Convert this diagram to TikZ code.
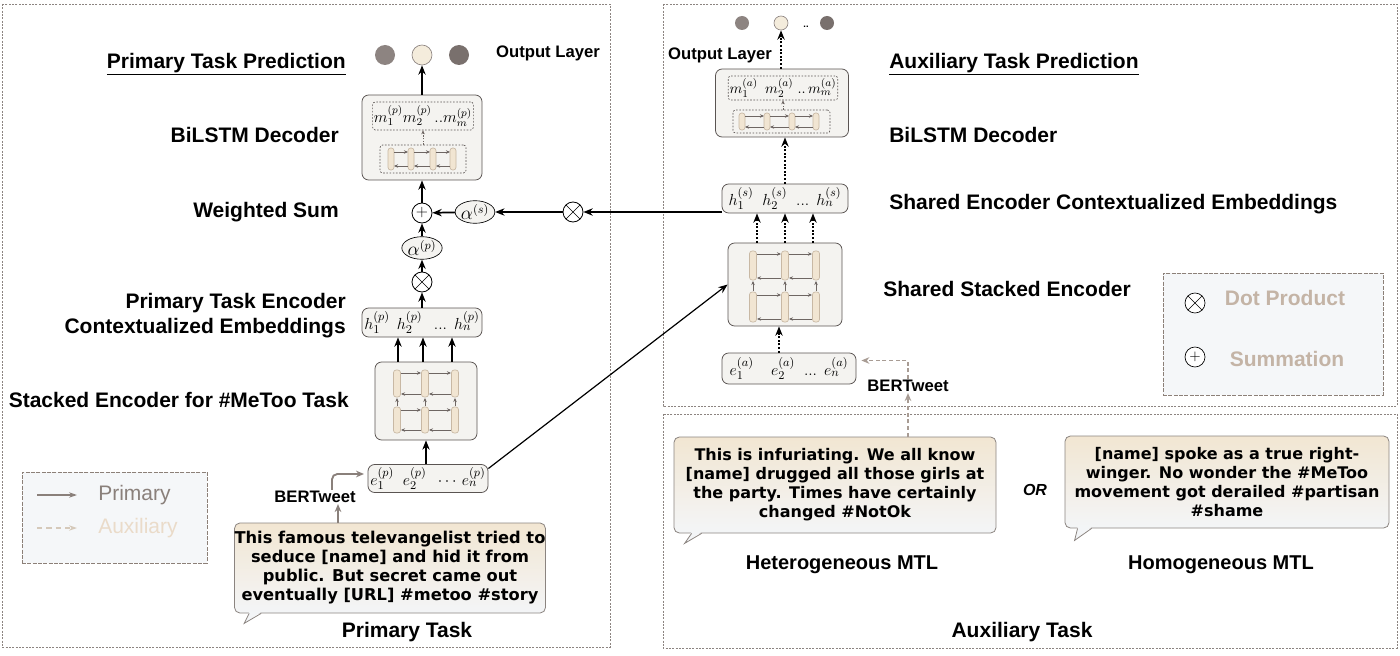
\documentclass[tikz,border=0pt]{standalone}
\usepackage[no-math]{fontspec}
\setmainfont{Liberation Sans}
\newfontfamily\tweetfont{DejaVu Sans}
\usetikzlibrary{arrows.meta,calc,positioning,shapes.geometric}

\definecolor{boxfill}{RGB}{244,243,240}
\definecolor{boxdraw}{RGB}{90,84,82}
\definecolor{cellfill}{RGB}{241,229,210}
\definecolor{celldraw}{RGB}{200,184,164}
\definecolor{inline}{RGB}{110,102,99}
\definecolor{framecol}{RGB}{140,132,128}
\definecolor{legfill}{RGB}{245,247,249}
\definecolor{legdraw}{RGB}{140,128,120}
\definecolor{tantext}{RGB}{196,180,166}
\definecolor{pritext}{RGB}{138,128,123}
\definecolor{auxtext}{RGB}{234,219,201}
\definecolor{bubtop}{RGB}{242,230,210}
\definecolor{bubbot}{RGB}{243,245,247}
\definecolor{bubdraw}{RGB}{139,132,128}
\definecolor{outdark}{RGB}{141,132,129}
\definecolor{outgray}{RGB}{121,112,109}
\definecolor{outlight}{RGB}{244,236,220}
\definecolor{garrow}{RGB}{138,128,123}
\definecolor{gdash}{RGB}{168,156,148}

\begin{document}
\begin{tikzpicture}[x=0.75pt,y=0.75pt,yscale=-1,
  lbl/.style={font=\bfseries\fontsize{15.75}{18.75}\selectfont, inner sep=0.75pt},
  rlbl/.style={font=\bfseries\fontsize{15.75}{18.75}\selectfont, inner sep=0.75pt},
  olbl/.style={font=\bfseries\fontsize{12.5}{15}\selectfont, inner sep=0.75pt},
  bert/.style={font=\bfseries\fontsize{12.5}{15}\selectfont, inner sep=0.75pt},
  mth/.style={font=\fontsize{13}{15}\selectfont},
  rbox/.style={draw=boxdraw, fill=boxfill, rounded corners=5pt, line width=0.6pt, inner sep=0pt, mth},
  dbox/.style={draw=boxdraw, dash pattern=on 1.2pt off 1.2pt, line width=0.5pt, rounded corners=2pt, inner sep=0pt, mth},
  lstmcell/.style={draw=celldraw, fill=cellfill, rounded corners=2pt, line width=0.5pt},
  mulnode/.style={circle, draw, fill=white, minimum size=15pt, inner sep=0pt, line width=0.6pt,
    path picture={\draw[line width=0.5pt] (path picture bounding box.north west) -- (path picture bounding box.south east)
      (path picture bounding box.north east) -- (path picture bounding box.south west);}},
  sumnode/.style={circle, draw, fill=white, minimum size=15pt, inner sep=0pt, line width=0.6pt, font=\fontsize{13}{13}\selectfont},
  alphanode/.style={ellipse, draw, fill=boxfill, line width=0.5pt, inner sep=0pt, minimum height=15pt, font=\fontsize{13.5}{15}\selectfont},
  outnode/.style={circle, minimum size=15pt, inner sep=0pt},
  arr/.style={-{Stealth[length=7pt,width=5.5pt]}, line width=1.3pt},
  darr/.style={arr, dash pattern=on 1.5pt off 1.2pt},
  inarr/.style={-{Stealth[length=3pt,width=2.6pt]}, draw=inline, line width=0.5pt},
  taskframe/.style={draw=framecol, dash pattern=on 1.5pt off 1pt, line width=0.6pt},
  legbox/.style={draw=legdraw, dash pattern=on 3pt off 1pt, fill=legfill, line width=0.6pt, inner sep=0pt},
  tweetbox/.style={draw=bubdraw, top color=bubtop, bottom color=bubbot, rounded corners=4pt, line width=0.6pt,
    align=center, inner sep=0pt, font=\tweetfont\bfseries\fontsize{12}{14.25}\selectfont},
  garr/.style={-{Stealth[length=6pt,width=5pt]}, draw=garrow, line width=1.4pt},
  gdarr/.style={-{Stealth[length=6pt,width=5pt]}, draw=gdash, line width=0.9pt, dash pattern=on 3pt off 2pt}
]
\path[use as bounding box] (0,0) rectangle (1400,656);

%Shape: Rectangle [task frames]
\draw[taskframe] (2,4) rectangle (610,647);
\draw[taskframe] (663,4) rectangle (1397,406);
\draw[taskframe] (663,414) rectangle (1397,648);

%Shape: Rectangle [legends]
\node[legbox, minimum width=138.75pt, minimum height=68.25pt] (legL) at (114.5,517.5) {};
\node[legbox, minimum width=165pt, minimum height=91.5pt] (legR) at (1273,334) {};

%Shape: Circle [output layer, primary]
\node[outnode, fill=outdark] (oP1) at (385,55) {};
\node[outnode, fill=outlight, draw=outdark, line width=0.5pt] (oP2) at (422,55) {};
\node[outnode, fill=outgray] (oP3) at (459,55) {};
%Shape: Circle [output layer, auxiliary]
\node[outnode, minimum size=10.5pt, fill=outdark] (oA1) at (742,23) {};
\node[outnode, minimum size=10.5pt, fill=outlight, draw=outdark, line width=0.5pt] (oA2) at (781,23) {};
\node[outnode, minimum size=10.5pt, fill=outgray] (oA3) at (827,23) {};
\node[font=\bfseries\fontsize{7}{7}\selectfont, inner sep=0pt] (dotsA) at (806,27) {..};

%Rounded Rect [primary decoder]
\node[rbox, minimum width=90pt, minimum height=63.75pt] (decP) at (422,137.5) {};
\node[dbox, minimum width=72pt, minimum height=21pt, inner xsep=1pt, font=\fontsize{11.5}{14}\selectfont] (mP) at (423,116) {$m_1^{(p)}m_2^{(p)}\,..m_m^{(p)}$};
\node[dbox, minimum width=64.5pt, minimum height=21pt] (lP) at (423,159) {};
\foreach \cx in {391,411,433,453} {\draw[lstmcell] (\cx-3,148) rectangle (\cx+3,170);}
\foreach \a/\b in {391/411,411/433,433/453} {
  \draw[inarr] (\a+3,152) -- (\b-3,152);
  \draw[inarr] (\b-3,166) -- (\a+3,166);
}
\draw[inarr, dash pattern=on 1pt off 1pt] (lP.north) -- (mP.south);

%Rounded Rect [auxiliary decoder]
\node[rbox, minimum width=99.75pt, minimum height=51pt] (decA) at (782,103) {};
\node[dbox, minimum width=78pt, minimum height=18pt, inner xsep=1pt, font=\fontsize{11}{13}\selectfont] (mA) at (783,88) {$m_1^{(a)}\enspace m_2^{(a)}\;..\,m_m^{(a)}$};
\node[dbox, minimum width=72.75pt, minimum height=17.25pt] (lA) at (781.5,121.5) {};
\foreach \cx in {742,767,792,816} {\draw[lstmcell] (\cx-3,113) rectangle (\cx+3,130);}
\foreach \a/\b in {742/767,767/792,792/816} {
  \draw[inarr] (\a+3,116) -- (\b-3,116);
  \draw[inarr] (\b-3,127) -- (\a+3,127);
}
\draw[inarr, dash pattern=on 1pt off 1pt] (lA.north -| mA) -- (mA.south);

%Shape: Circle [weighted sum]
\node[sumnode] (sumP) at (422,213) {$+$};
\node[alphanode, minimum width=27pt] (aS) at (475,212) {$\alpha^{(s)}$};
\node[mulnode] (mulS) at (573,212) {};
\node[alphanode, minimum width=28.5pt] (aP) at (422,248) {$\alpha^{(p)}$};
\node[mulnode] (mulP) at (422,282) {};

%Rounded Rect [primary embeddings and encoder]
\node[rbox, minimum width=90pt, minimum height=21.75pt] (hP) at (422,322.5) {$h_1^{(p)}\;\, h_2^{(p)}\;\;\, ...\;\, h_n^{(p)}$};
\node[rbox, minimum width=76.5pt, minimum height=58.5pt] (encP) at (426,401) {};
\foreach \cx in {397,425,455} {
  \draw[lstmcell] (\cx-3.5,370) rectangle (\cx+3.5,397);
  \draw[lstmcell] (\cx-3.5,407) rectangle (\cx+3.5,433);
  \draw[inarr] (\cx,406) -- (\cx,398);
}
\foreach \a/\b in {397/425,425/455} {
  \draw[inarr] (\a+4,373) -- (\b-4,373);
  \draw[inarr] (\b-4,394) -- (\a+4,394);
  \draw[inarr] (\a+4,410) -- (\b-4,410);
  \draw[inarr] (\b-4,430) -- (\a+4,430);
}
\node[rbox, minimum width=90pt, minimum height=21pt] (eP) at (428,478.5) {$e_1^{(p)}\enspace e_2^{(p)}\enspace \cdots\, e_n^{(p)}$};

%Rounded Rect [shared embeddings and encoder]
\node[rbox, minimum width=94.5pt, minimum height=21.75pt] (hS) at (785,198.5) {$h_1^{(s)}\enspace h_2^{(s)}\;\; ...\;\, h_n^{(s)}$};
\node[rbox, minimum width=85.5pt, minimum height=62.25pt] (encS) at (785,284.5) {};
\foreach \cx in {753,785,816} {
  \draw[lstmcell] (\cx-3.5,251) rectangle (\cx+3.5,280);
  \draw[lstmcell] (\cx-3.5,292) rectangle (\cx+3.5,322);
  \draw[inarr] (\cx,291) -- (\cx,281);
}
\foreach \a/\b in {753/785,785/816} {
  \draw[inarr] (\a+4,254) -- (\b-4,254);
  \draw[inarr] (\b-4,278) -- (\a+4,278);
  \draw[inarr] (\a+4,295) -- (\b-4,295);
  \draw[inarr] (\b-4,319) -- (\a+4,319);
}
\node[rbox, minimum width=100.5pt, minimum height=23.25pt] (eA) at (789,368.5) {$e_1^{(a)}\quad e_2^{(a)}\;\; ...\;\, e_n^{(a)}$};

%Straight Lines [primary stream]
\draw[arr] (decP.north) -- (oP2);
\draw[arr] (sumP) -- (decP);
\draw[arr] (aP) -- (sumP);
\draw[arr] (mulP) -- (aP);
\draw[arr] (hP) -- (mulP);
\foreach \dx in {-21pt,-2.25pt,19.5pt} {\draw[arr] ([xshift=\dx]encP.north) -- ([xshift=\dx]encP.north |- hP.south);}
\draw[arr, line width=0.8pt] (eP.north -| encP) -- (encP.south);
\coordinate (ePout) at ($(eP.east)+(0,-10)$);
\draw[arr, line width=0.9pt] (ePout) -- (encS.west);

%Straight Lines [shared stream]
\draw[arr] (mulS -| hS.west) -- (mulS);
\draw[arr] (mulS) -- (aS);
\draw[arr] (aS) -- (sumP);
\draw[darr] (decA.north -| oA2) -- (oA2);
\draw[darr] (hS.north) -- (hS.north |- decA.south);
\foreach \dx in {-21pt,0pt,21pt} {\draw[darr] ([xshift=\dx]encS.north) -- ([xshift=\dx]encS.north |- hS.south);}
\draw[darr] ([xshift=-7.5pt]eA.north) -- ([xshift=-7.5pt]eA.north |- encS.south);

%Shape: Speech bubbles
\node[tweetbox, minimum width=232.5pt, minimum height=67.5pt, font=\tweetfont\bfseries\fontsize{12.2}{14.25}\selectfont] (pTw) at (390,568)
  {This famous televangelist tried to\\seduce [name] and hid it from\\public. But secret came out\\eventually [URL] \#metoo \#story};
\fill[bubbot] ($(pTw.south west)+(15,-1.5)$) -- ($(pTw.south west)+(10,10)$) -- ($(pTw.south west)+(27,-1.5)$) -- cycle;
\draw[bubdraw, line width=0.6pt] ($(pTw.south west)+(15,0)$) -- ($(pTw.south west)+(10,10)$) -- ($(pTw.south west)+(27,0)$);
\node[tweetbox, minimum width=241.5pt, minimum height=72pt] (hTw) at (835,485)
  {This is infuriating. We all know\\{[name]} drugged all those girls at\\the party. Times have certainly\\changed \#NotOk};
\fill[bubbot] ($(hTw.south west)+(18,-1.5)$) -- ($(hTw.south west)+(11,10)$) -- ($(hTw.south west)+(28,-1.5)$) -- cycle;
\draw[bubdraw, line width=0.6pt] ($(hTw.south west)+(18,0)$) -- ($(hTw.south west)+(11,10)$) -- ($(hTw.south west)+(28,0)$);
\node[tweetbox, minimum width=243pt, minimum height=69pt] (mTw) at (1227,482)
  {{[name]} spoke as a true right-\\winger. No wonder the \#MeToo\\movement got derailed \#partisan\\\#shame};
\fill[bubbot] ($(mTw.south west)+(13,-1.5)$) -- ($(mTw.south west)+(10,12)$) -- ($(mTw.south west)+(27,-1.5)$) -- cycle;
\draw[bubdraw, line width=0.6pt] ($(mTw.south west)+(13,0)$) -- ($(mTw.south west)+(10,12)$) -- ($(mTw.south west)+(27,0)$);

% Text Node
\node[bert] (bertP) at (315,497) {BERTweet};
\node[bert] (bertA) at (908,386) {BERTweet};

%Straight Lines [BERTweet inputs]
\coordinate (ePin) at (364,474);
\draw[garr, rounded corners=4pt] ([xshift=12.75pt]bertP.north) |- (ePin);
\draw[garr, line width=0.8pt] ([xshift=-39pt]pTw.north) -- ([xshift=-39pt]pTw.north |- bertP.south);
\coordinate (eAin) at ($(eA.east)+(5,-8)$);
\draw[gdarr] (bertA.north) |- (eAin);
\draw[gdarr] (hTw.north -| bertA) -- (bertA.south);

% Text Node [left labels]
\node[lbl, anchor=east] (ptpl) at (347,64) {\underline{Primary Task Prediction}};
\node[lbl, anchor=east] (bdlP) at (340,135) {BiLSTM Decoder};
\node[lbl, anchor=east] (wsl) at (340,212) {Weighted Sum};
\node[lbl, anchor=east, align=right] (pel) at (347,315.5) {Primary Task Encoder\\Contextualized Embeddings};
\node[lbl, anchor=east] (sel) at (350,400) {Stacked Encoder for \#MeToo Task};
\node[olbl] (olP) at (548,53) {Output Layer};
\node[lbl] (ptask) at (407,632) {Primary Task};

% Text Node [right labels]
\node[rlbl, anchor=west] (atpl) at (888,64) {\underline{Auxiliary Task Prediction}};
\node[rlbl, anchor=west] (bdlA) at (888,135) {BiLSTM Decoder};
\node[rlbl, anchor=west] (sel2) at (888,204) {Shared Encoder Contextualized Embeddings};
\node[rlbl, anchor=west] (ssl) at (882,289) {Shared Stacked Encoder};
\node[olbl] (olA) at (720,55) {Output Layer};
\node[font=\bfseries\itshape\fontsize{12}{14}\selectfont] (orl) at (1035,490) {OR};
\node[rlbl, font=\bfseries\fontsize{15}{18}\selectfont] (htl) at (842,565) {Heterogeneous MTL};
\node[rlbl, font=\bfseries\fontsize{15}{18}\selectfont] (hml) at (1221,565) {Homogeneous MTL};
\node[lbl] (atask) at (1022,632) {Auxiliary Task};

% Text Node [legends]
\coordinate (lgP1) at (37,495);
\coordinate (lgP2) at (77,495);
\draw[-{Stealth[length=6pt,width=4pt]}, draw=pritext, line width=0.9pt] (lgP1) -- (lgP2);
\node[lbl, anchor=west, font=\fontsize{15.75}{18}\selectfont, text=pritext] (lgPri) at (97,495) {Primary};
\coordinate (lgA1) at (37,528);
\coordinate (lgA2) at (77,528);
\draw[-{Stealth[length=6pt,width=4pt]}, draw=auxtext!80!gray, line width=0.9pt, dash pattern=on 4pt off 3pt] (lgA1) -- (lgA2);
\node[lbl, anchor=west, font=\fontsize{15.75}{18}\selectfont, text=auxtext] (lgAux) at (97,528) {Auxiliary};
\node[mulnode, line width=0.5pt] (lgMul) at (1195,303) {};
\node[lbl, text=tantext] (lgDot) at (1285,298) {Dot Product};
\node[sumnode, line width=0.5pt, font=\fontsize{11}{11}\selectfont] (lgSum) at (1195,357) {$+$};
\node[lbl, text=tantext] (lgSm) at (1287,359) {Summation};

\end{tikzpicture}
\end{document}
